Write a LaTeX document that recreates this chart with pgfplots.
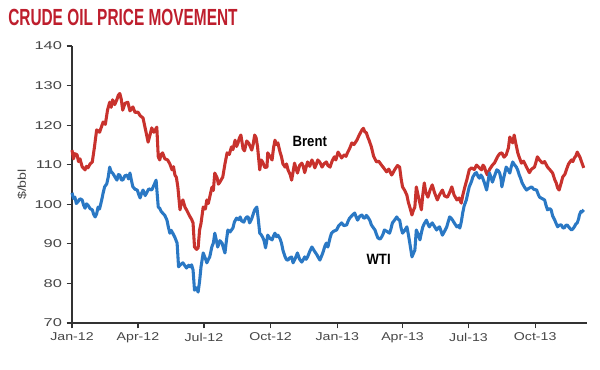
\documentclass[border=0pt]{standalone}
\usepackage{fontspec}
\setmainfont{Liberation Sans}
\newfontfamily\tickfont[FakeStretch=1.25]{Liberation Sans}
\newfontfamily\ytickfont[FakeStretch=1.45]{Liberation Sans}
\newfontfamily\labfont[FakeStretch=0.88]{Liberation Sans}
\newfontfamily\titlefont[FakeStretch=0.66]{Liberation Sans}
\usepackage{pgfplots}
\pgfplotsset{compat=1.18}
\definecolor{brentred}{RGB}{200,50,45}
\definecolor{wtiblue}{RGB}{42,120,196}
\definecolor{titlered}{RGB}{190,30,45}
\definecolor{tickgray}{RGB}{70,70,70}
\definecolor{axisgray}{RGB}{50,50,50}
\begin{document}
\begin{tikzpicture}
\useasboundingbox (-54pt,-34.5pt) rectangle (396pt,242.25pt);
\begin{axis}[
  scale only axis,
  width=386pt, height=207.75pt,
  xmin=0, xmax=710, ymin=70, ymax=140,
  axis x line*=bottom, axis y line*=left,
  axis line style={axisgray, line width=1.1pt},
  tick style={axisgray, line width=0.9pt},
  tick align=outside, major tick length=4pt,
  xtick={0,91,182,274,366,456,547,639},
  xticklabels={Jan-12,Apr-12,Jul-12,Oct-12,Jan-13,Apr-13,Jul-13,Oct-13},
  ytick={70,80,90,100,110,120,130,140},
  /pgf/number format/assume math mode=true,
  xticklabel style={font=\tickfont\fontsize{8.5}{10}\selectfont, text=tickgray},
  yticklabel style={font=\ytickfont\fontsize{8.5}{10}\selectfont, text=tickgray},
  ylabel={\$/bbl},
  ylabel style={at={(axis description cs:-0.097,0.5)}, anchor=center, font=\tickfont\fontsize{8.5}{10}\selectfont, text=tickgray},
  clip=false,
]
\addplot[brentred, line width=2.3pt, line join=round] coordinates {
(0,113.7) (2,111.5) (4,112.8) (7,112.5) (9,110.8) (11,111.5) (14,109.5) (18,108.7) (20,109.6) (22,109.2) (25,110.2) (28,110.7) (31,114.5) (34,118.8) (38,118.2) (43,120.8) (46,120.2) (49,123.8) (52,125.8) (54,124.5) (56,126.4) (59,125.2) (62,126.5) (64,127.6) (66,128) (68,126.5) (70,123.8) (73,125.5) (77,125.8) (80,123.6) (84,124.6) (87,123.2) (91,123.3) (94,122.4) (98,121.8) (101,119.2) (103,117.5) (105,115.7) (108,117.8) (110,119.3) (113,118.2) (117,119.5) (119,112) (121,111.2) (123,112.6) (125,113) (128,111.5) (132,111.2) (135,110.2) (138,108.7) (140,109.5) (142,107.4) (144,106.8) (146,104.4) (149,98.6) (151,100.4) (153,101.1) (156,99.2) (158,98.6) (161,97.5) (163,96.8) (165,96.2) (167,95.3) (169,89.2) (172,88.6) (174,89) (176,93.5) (178,95.2) (181,99.3) (184,98.8) (186,101.1) (188,100.2) (190,101.8) (193,104.3) (195,103.5) (197,107.9) (200,106.8) (202,105.1) (204,105.6) (208,106.9) (211,110.2) (214,113) (217,112.6) (220,114.5) (222,113.8) (225,116.2) (227,114.6) (229,115.5) (231,116.8) (233,117.5) (236,114) (238,113.5) (241,116) (244,115.4) (248,113.7) (250,115.2) (252,117.5) (254,116.8) (256,114.5) (259,108.7) (261,111.2) (263,110.7) (266,109.3) (269,109.4) (270,113) (273,112.1) (276,111.2) (278,114.2) (280,116.2) (282,115.1) (284,115.5) (287,113.2) (289,112) (291,110.2) (294,109.4) (296,110.2) (298,108.7) (301,107.5) (303,106.1) (305,108.2) (307,110.4) (309,109.1) (311,107.9) (314,109.8) (317,110.4) (319,109.6) (321,108) (323,109.4) (325,110.7) (328,109.6) (331,111.2) (333,110.4) (335,109.2) (337,110.1) (339,111.2) (342,110.6) (345,109.4) (348,110.3) (351,110.7) (353,109.8) (356,109.4) (359,111.0) (362,112) (364,111.2) (367,113.2) (369,112.6) (372,111.7) (374,112.2) (376,112.5) (378,112.1) (380,113) (383,114.1) (386,115.5) (389,115.1) (393,116.2) (396,117.4) (400,118.8) (402,119.2) (404,118.3) (406,118.1) (408,117) (410,116.1) (413,114.5) (416,112.2) (420,110.7) (423,110.9) (427,109.9) (430,109.2) (434,108.2) (437,108.9) (441,107.4) (443,108.0) (445,108.7) (449,109.8) (452,109.4) (454,106.5) (456,104.4) (459,103.5) (462,102.3) (464,100.5) (466,99.3) (469,97.3) (471,98.5) (473,99.3) (475,104.4) (478,101.8) (480,100.2) (482,98.6) (484,102.5) (486,105.4) (488,103.1) (491,101.8) (494,103.6) (497,104.9) (500,103.0) (504,101.1) (507,102.4) (511,103.6) (514,102.1) (518,101.8) (521,103.0) (524,104.4) (527,102.4) (531,101.1) (534,101.6) (537,100.3) (539,102.2) (542,104.4) (545,106.4) (548,108.7) (551,109.2) (555,108.8) (558,109.9) (562,109.2) (565,108.7) (567,109.9) (569,109.4) (571,108.2) (573,107.4) (576,108.8) (580,109.9) (583,110.5) (587,112) (590,112.8) (593,113) (596,111.9) (599,112.5) (602,114.2) (604,117) (606,116.2) (608,115.5) (610,117.5) (612,115.6) (615,113) (617,111.9) (620,110.4) (623,110.9) (627,109.4) (629,108.7) (631,108) (634,108.9) (638,109.4) (640,110.6) (642,112) (645,111.2) (649,110.4) (652,110.8) (656,109.4) (659,108.8) (663,107.9) (666,106.2) (668,105.4) (670,104.1) (672,103.6) (675,105.5) (677,106.9) (680,107.6) (682,108.7) (685,110.2) (689,111.2) (691,110.8) (693,111.7) (695,112.2) (697,113.2) (699,112.5) (701,111.8) (703,110.7) (706,109.2)
};
\addplot[wtiblue, line width=2.3pt, line join=round] coordinates {
(0,102.9) (2,101.5) (4,101.8) (6,100.2) (8,100.6) (11,101.4) (14,101.1) (16,99.8) (18,99) (20,100.1) (22,99.8) (25,98.9) (28,98.6) (30,97.4) (32,96.8) (34,97.6) (36,99.3) (38,98.8) (41,101.1) (43,102.9) (45,104.4) (48,105.2) (50,106.9) (52,109.4) (54,108.2) (56,107.9) (59,107.0) (62,106.1) (64,107.5) (66,107.4) (68,106.2) (70,106.1) (73,107.2) (76,107.4) (78,106.4) (80,107.9) (82,106.0) (84,104.4) (87,103.8) (90,103.6) (92,102.5) (94,101.6) (96,102.8) (98,103.6) (101,102.2) (103,102.9) (106,103.9) (110,103.6) (113,104.8) (116,106.1) (119,99.3) (121,99) (123,98.2) (125,97.8) (128,97.2) (131,96) (133,94.2) (135,92.7) (137,93.4) (139,92.7) (142,91.6) (145,90.2) (147,84.2) (150,84.8) (153,85.2) (156,84.4) (158,83.9) (161,84.6) (163,84.2) (165,84.7) (167,83.4) (169,78.3) (172,78.9) (174,77.8) (176,80.5) (178,84.2) (181,87.7) (184,86.3) (186,85.2) (188,86.0) (190,86.7) (193,89.3) (195,90.2) (197,92.7) (199,91.0) (201,89.2) (204,90.8) (207,90.2) (209,88.9) (211,87.7) (213,90.8) (215,93.5) (218,93.0) (222,94) (224,95.5) (227,96.5) (230,96.1) (232,96.8) (234,95.8) (237,95.5) (239,96.3) (241,96.8) (243,96.8) (245,95.3) (248,96.4) (250,97.5) (252,98.6) (255,99.3) (257,96.2) (259,92.7) (261,92.3) (263,91.7) (265,90.8) (267,89) (270,92.2) (273,91.4) (276,91) (278,92.0) (280,92.7) (282,91.8) (284,92.2) (287,91.3) (289,90.2) (291,88.4) (294,86.7) (296,86.0) (298,85.9) (300,86.4) (303,86.7) (305,85.2) (308,86.3) (311,87.7) (314,86.1) (317,85.4) (319,86.0) (321,86.7) (323,86.1) (325,86.7) (328,88.1) (331,89.2) (334,88.3) (338,87.2) (340,86.5) (342,85.9) (344,86.8) (346,87.7) (349,89.5) (351,90.2) (353,89.2) (356,91.5) (358,92.7) (361,93.2) (365,93.5) (368,94.6) (372,95.3) (375,94.6) (379,94.8) (381,95.8) (383,96.5) (386,97.1) (390,97.8) (392,96.8) (394,96) (397,97.0) (400,97.3) (402,96.6) (404,96.5) (406,97.2) (408,96.8) (411,95.9) (413,94.8) (416,94.0) (418,93.5) (420,92.4) (422,91.5) (425,91.2) (427,91.7) (429,92.4) (431,93.5) (434,93.2) (438,92.7) (440,93.8) (442,95.3) (445,96.0) (448,96.8) (450,96.2) (452,96) (454,94.0) (456,92.7) (459,93.4) (462,94.3) (464,92.4) (466,90.2) (469,86.7) (471,87.6) (473,88.4) (475,93.5) (478,92.2) (480,91) (482,92.8) (484,94.3) (486,95.1) (489,96) (491,95.0) (493,94.3) (495,94.9) (497,95.3) (500,94.4) (503,93.5) (505,94.0) (507,94.3) (509,93.3) (511,92.2) (514,93.2) (517,94.3) (519,95.6) (521,96.8) (523,96.5) (525,96) (528,95.1) (531,94.3) (533,94.6) (535,94) (537,95.5) (539,97.8) (541,99.6) (544,101.1) (546,102.8) (548,104.4) (551,105.7) (553,106.9) (556,107.8) (558,108) (560,107.1) (562,106.6) (564,107.4) (566,106.9) (569,105.4) (572,103.6) (574,105.8) (576,107.9) (578,106.8) (580,105.6) (583,107.2) (586,108.7) (588,108.5) (590,107.9) (592,106.2) (593,104.4) (596,107.0) (599,109.4) (601,108.9) (604,107.9) (606,109.5) (608,110.7) (610,110.1) (613,109.4) (615,108.6) (617,107.4) (619,106.5) (621,105.4) (624,104.4) (627,103.6) (630,104.0) (634,104.4) (637,103.8) (641,103.6) (643,102.6) (645,101.8) (648,101.5) (652,101.1) (654,99.7) (656,98.6) (659,98.9) (661,98.6) (663,97.1) (666,96) (668,95.1) (670,94.3) (672,94.7) (675,94.8) (677,94.1) (679,94) (681,94.6) (683,94.8) (686,94.1) (689,93.5) (691,93.8) (693,94.3) (695,95.0) (697,95.3) (699,96.4) (700,97.3) (702,98.2) (703,98) (705,98.4) (706,98.6)
};
\node[font=\labfont\bfseries\fontsize{11.2}{13}\selectfont, text=black] at (axis cs:328,115.9) {Brent};
\node[font=\labfont\bfseries\fontsize{11.2}{13}\selectfont, text=black] at (axis cs:423,86.05) {WTI};
\end{axis}
\node[anchor=base west, inner sep=0pt, font=\titlefont\bfseries\fontsize{17.5}{20}\selectfont, text=titlered] at (-48pt,223.5pt) {CRUDE OIL PRICE MOVEMENT};
\end{tikzpicture}
\end{document}
